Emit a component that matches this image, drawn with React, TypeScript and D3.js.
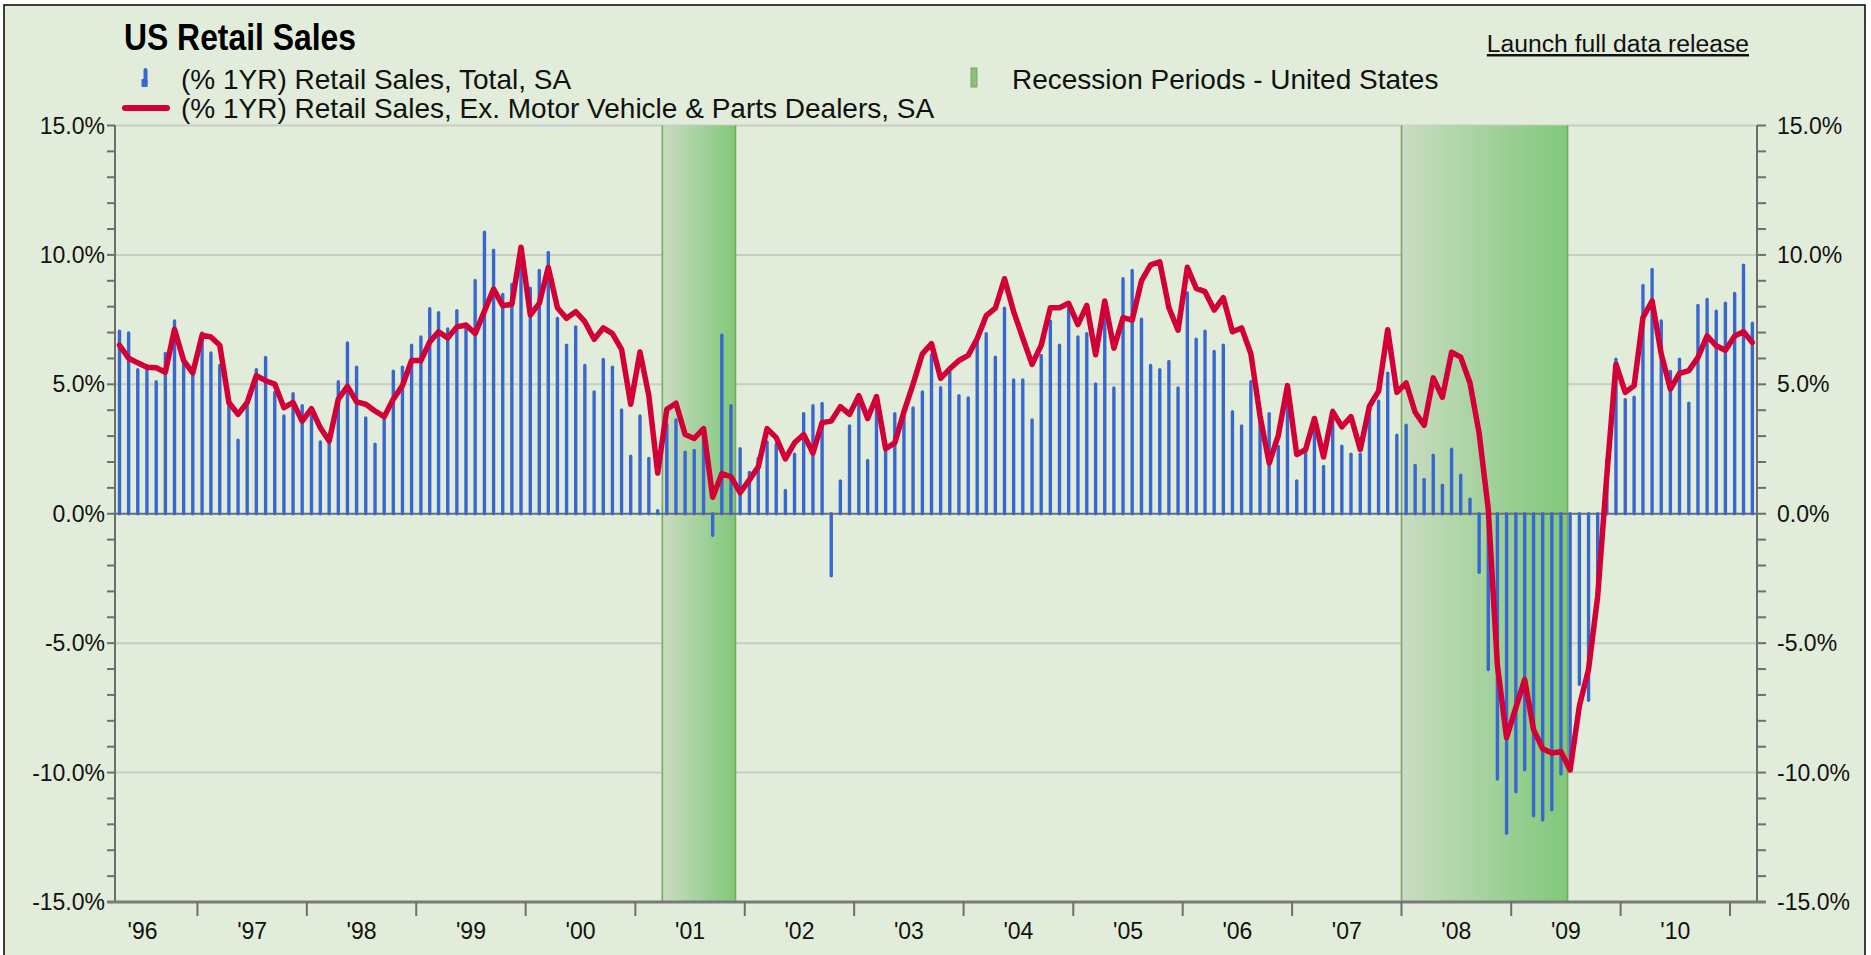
import React, { useEffect, useRef } from 'react';
import * as d3 from 'd3';

// Monthly data, Apr 1996 .. Mar 2011 (% change over 1 year)
const firstMonth = new Date(1996, 3, 1);
const domainEnd = new Date(2011, 3, 1);

const totalSA = [
  7.05, 6.99, 5.57, 5.73, 5.1, 6.19, 7.45, 5.86, 5.44, 6.99, 6.21, 5.73, 4.17, 2.84, 4.17, 5.57, 6.04, 4.69, 3.78, 4.64, 4.17, 3.78, 2.77,
  2.8, 5.1, 6.6, 5.66, 3.7, 2.69, 3.69, 5.51, 5.66, 6.51, 6.83, 7.92, 7.77, 7.14, 7.84, 7.14, 9.01, 10.88, 10.18, 8.47, 8.86, 9.6,
  8.71, 9.4, 10.1, 7.55, 6.51, 7.22, 5.73, 4.71, 5.96, 5.66, 4.01, 2.22, 3.78, 2.14, 0.12, 3.45, 3.62, 2.38, 2.45, 3.0, -0.83, 6.9, 4.17, 2.51,
  1.6, 2.14, 2.77, 2.68, 0.9, 2.3, 3.87, 4.17, 4.26, -2.4, 1.27, 3.39, 4.23, 2.06, 4.43, 2.42, 3.87, 3.78, 4.09, 4.71, 6.14, 4.87, 5.47,
  4.56, 4.47, 6.64, 6.96, 6.05, 7.94, 5.17, 5.17, 3.62, 6.12, 7.44, 6.51, 7.91, 6.83, 6.96, 5.01, 7.55, 4.86, 9.08, 9.4, 7.52, 5.73,
  5.57, 5.88, 4.86, 8.53, 6.74, 7.05, 6.27, 6.51, 3.94, 3.39, 5.1, 4.06, 3.87, 2.6, 4.4, 1.27, 2.48, 3.26, 1.83, 4.01, 2.61, 2.3, 2.3,
  4.12, 4.35, 5.43, 3.03, 3.42, 1.87, 1.33, 2.26, 1.1, 2.49, 1.49, 0.56, -2.26, -6.02, -10.25, -12.34, -10.74, -9.89, -11.67, -11.83, -11.44, -10.05, -9.6, -6.59, -7.21,
  -3.2, 2.09, 5.97, 4.41, 4.5, 8.82, 9.44, 7.45, 5.5, 5.97, 4.27, 8.05, 8.28, 7.83, 8.13, 8.51, 9.6, 7.36,
];

const exAutoSA = [
  6.51, 6.01, 5.83, 5.66, 5.64, 5.47, 7.13, 5.92, 5.44, 6.9, 6.83, 6.51, 4.3, 3.84, 4.3, 5.34, 5.14, 5.01, 4.1, 4.3, 3.58, 4.06, 3.32,
  2.81, 4.43, 4.92, 4.32, 4.23, 3.97, 3.75, 4.43, 4.95, 5.92, 5.92, 6.64, 7.03, 6.79, 7.22, 7.29, 6.96, 7.83, 8.68, 8.04, 8.09, 10.3,
  7.68, 8.13, 9.52, 7.96, 7.55, 7.81, 7.42, 6.74, 7.18, 6.96, 6.35, 4.23, 6.25, 4.56, 1.57, 4.04, 4.27, 3.06, 2.91, 3.29, 0.64, 1.55, 1.43, 0.82,
  1.31, 1.81, 3.29, 2.94, 2.12, 2.74, 3.06, 2.35, 3.52, 3.58, 4.14, 3.84, 4.56, 3.68, 4.53, 2.51, 2.74, 3.94, 5.01, 6.18, 6.57, 5.23, 5.6,
  5.92, 6.12, 6.77, 7.65, 7.94, 9.08, 7.81, 6.79, 5.77, 6.51, 7.96, 7.96, 8.13, 7.31, 8.05, 6.14, 8.22, 6.4, 7.58, 7.48, 9.0, 9.62,
  9.73, 7.96, 7.09, 9.52, 8.71, 8.58, 7.87, 8.35, 7.03, 7.18, 6.18, 3.78, 1.96, 3.03, 4.95, 2.29, 2.48, 3.68, 2.19, 3.94, 3.36, 3.75, 2.48,
  4.16, 4.74, 7.11, 4.69, 5.05, 3.92, 3.42, 5.25, 4.5, 6.24, 6.05, 5.05, 3.11, 0.17, -5.87, -8.65, -7.49, -6.41, -8.34, -9.08, -9.24, -9.19, -9.9, -7.42, -6.01,
  -3.19, 1.5, 5.78, 4.69, 4.95, 7.58, 8.22, 6.17, 4.82, 5.42, 5.53, 6.04, 6.87, 6.49, 6.32, 6.87, 7.03, 6.62,
];

const recessionStarts = ['2001-04-01', '2008-01-01'];
const recessionEnds = ['2001-12-01', '2009-07-08'];

const yGridValues = [15, 10, 5, -5, -10];
const yLabelValues = [15, 10, 5, 0, -5, -10, -15];
const yearLabels = ["'96", "'97", "'98", "'99", "'00", "'01", "'02", "'03", "'04", "'05", "'06", "'07", "'08", "'09", "'10"];

const legendTotal = '(% 1YR) Retail Sales, Total, SA';
const legendExAuto = '(% 1YR) Retail Sales, Ex. Motor Vehicle & Parts Dealers, SA';
const legendRecession = 'Recession Periods - United States';

export default function App() {
  const svgRef = useRef<SVGSVGElement>(null);

  useEffect(() => {
    if (!svgRef.current) return;
    const svg = d3.select(svgRef.current);
    svg.selectAll('*').remove();

    const W = 1871, H = 955;
    const left = 115, right = 1757, top = 125.5, bottom = 902;
    const font = '"Liberation Sans", Arial, sans-serif';

    const x = d3.scaleTime().domain([firstMonth, domainEnd]).range([left, right]);
    const y = d3.scaleLinear().domain([-15, 15]).range([bottom, top]);
    const parse = d3.timeParse('%Y-%m-%d');
    const months = totalSA.map((_, i) => d3.timeMonth.offset(firstMonth, i));
    const mid = (d: Date) => (x(d) + x(d3.timeMonth.offset(d, 1))) / 2;

    // fondo
    svg.append('rect').attr('width', W).attr('height', H).attr('fill', '#fff');
    svg.append('rect')
      .attr('x', 4).attr('y', 5).attr('width', 1861).attr('height', 965)
      .attr('fill', '#e2ecda').attr('stroke', '#000').attr('stroke-width', 1.5);

    const defs = svg.append('defs');
    const grad = defs.append('linearGradient').attr('id', 'recGrad')
      .attr('x1', '0').attr('x2', '1').attr('y1', '0').attr('y2', '0');
    grad.append('stop').attr('offset', '0').attr('stop-color', '#cadcc1');
    grad.append('stop').attr('offset', '1').attr('stop-color', '#80c87a');

    // rejilla
    svg.selectAll('.grid')
      .data(yGridValues)
      .join('line')
      .attr('x1', left).attr('x2', right)
      .attr('y1', d => y(d)).attr('y2', d => y(d))
      .attr('stroke', '#c9cbc5').attr('stroke-width', 2);

    // recesiones
    const rec = recessionStarts.map((s, i) => ({ s: parse(s)!, e: parse(recessionEnds[i])! }));
    svg.selectAll('.rec')
      .data(rec)
      .join('rect')
      .attr('x', d => x(d.s)).attr('width', d => x(d.e) - x(d.s))
      .attr('y', top).attr('height', bottom - top)
      .attr('fill', 'url(#recGrad)');
    rec.forEach(d => {
      [d.s, d.e].forEach(t => {
        svg.append('line')
          .attr('x1', x(t)).attr('x2', x(t)).attr('y1', top).attr('y2', bottom)
          .attr('stroke', '#76a85e').attr('stroke-width', 1.6);
      });
    });

    // ejes verticales y marcas
    const minor = d3.range(-15, 16, 1);
    [left, right].forEach((ax, k) => {
      svg.append('line')
        .attr('x1', ax).attr('x2', ax).attr('y1', top).attr('y2', bottom)
        .attr('stroke', '#6e6e6e').attr('stroke-width', 2);
      svg.selectAll(null)
        .data(minor)
        .join('line')
        .attr('x1', ax).attr('x2', k === 0 ? ax - 8 : ax + 9)
        .attr('y1', d => y(d)).attr('y2', d => y(d))
        .attr('stroke', '#6e6e6e').attr('stroke-width', 2);
    });

    // línea cero
    svg.append('line')
      .attr('x1', left).attr('x2', right).attr('y1', y(0)).attr('y2', y(0))
      .attr('stroke', '#6e6e6e').attr('stroke-width', 2.2);

    // barras
    svg.selectAll('.bar')
      .data(totalSA)
      .join('line')
      .attr('x1', (_, i) => mid(months[i])).attr('x2', (_, i) => mid(months[i]))
      .attr('y1', y(0)).attr('y2', d => y(d))
      .attr('stroke', '#3868cf').attr('stroke-width', 3.4).attr('stroke-linecap', 'round');

    // línea
    const line = d3.line<number>()
      .x((_, i) => mid(months[i]))
      .y(d => y(d));
    svg.append('path')
      .datum(exAutoSA)
      .attr('d', line)
      .attr('fill', 'none')
      .attr('stroke', '#d20037').attr('stroke-width', 5.5)
      .attr('stroke-linejoin', 'round').attr('stroke-linecap', 'round');

    // eje inferior
    svg.append('line')
      .attr('x1', left - 8).attr('x2', right + 9).attr('y1', bottom).attr('y2', bottom)
      .attr('stroke', '#7a7a7a').attr('stroke-width', 3);
    const yearStarts = d3.timeYear.range(new Date(1997, 0, 1), new Date(2011, 1, 1));
    svg.selectAll('.ytick')
      .data(yearStarts)
      .join('line')
      .attr('x1', d => x(d)).attr('x2', d => x(d))
      .attr('y1', bottom).attr('y2', bottom + 14)
      .attr('stroke', '#6e6e6e').attr('stroke-width', 2);
    svg.selectAll('.ylab')
      .data(yearLabels)
      .join('text')
      .attr('x', (_, i) => (x(new Date(1996 + i, 0, 1)) + x(new Date(1997 + i, 0, 1))) / 2)
      .attr('y', 939)
      .attr('text-anchor', 'middle')
      .attr('font-family', font).attr('font-size', 23).attr('fill', '#111')
      .text(d => d);

    // etiquetas eje Y
    const fmt = (v: number) => d3.format('.1f')(v).replace('\u2212', '-') + '%';
    svg.selectAll('.yl')
      .data(yLabelValues)
      .join('text')
      .attr('x', 105).attr('y', d => y(d) + 8)
      .attr('text-anchor', 'end')
      .attr('font-family', font).attr('font-size', 23).attr('fill', '#111')
      .text(d => fmt(d));
    svg.selectAll('.yr')
      .data(yLabelValues)
      .join('text')
      .attr('x', 1777).attr('y', d => y(d) + 8)
      .attr('text-anchor', 'start')
      .attr('font-family', font).attr('font-size', 23).attr('fill', '#111')
      .text(d => fmt(d));

    // título y leyenda
    svg.append('text')
      .attr('x', 124).attr('y', 50)
      .attr('font-family', font).attr('font-size', 37).attr('font-weight', 'bold').attr('fill', '#000')
      .attr('textLength', 232).attr('lengthAdjust', 'spacingAndGlyphs')
      .text('US Retail Sales');

    svg.append('text')
      .attr('x', 1749).attr('y', 52)
      .attr('text-anchor', 'end')
      .attr('font-family', font).attr('font-size', 24.7).attr('fill', '#111')
      .attr('text-decoration', 'underline')
      .text('Launch full data release');

    const leg = svg.append('g').attr('font-family', font).attr('font-size', 28).attr('fill', '#111');
    leg.append('rect').attr('x', 143.5).attr('y', 68).attr('width', 4).attr('height', 19).attr('rx', 2).attr('fill', '#3868cf');
    leg.append('rect').attr('x', 141.5).attr('y', 79).attr('width', 6).attr('height', 8).attr('rx', 1).attr('fill', '#3868cf');
    leg.append('text').attr('x', 181).attr('y', 89).text(legendTotal);
    leg.append('line').attr('x1', 125).attr('x2', 167).attr('y1', 108).attr('y2', 108)
      .attr('stroke', '#d20037').attr('stroke-width', 6).attr('stroke-linecap', 'round');
    leg.append('text').attr('x', 181).attr('y', 118).text(legendExAuto);
    leg.append('rect').attr('x', 971).attr('y', 68).attr('width', 6).attr('height', 19)
      .attr('fill', '#8dc07c').attr('stroke', '#78a866').attr('stroke-width', 1);
    leg.append('text').attr('x', 1012).attr('y', 89).text(legendRecession);
  }, []);

  return (
    <div style={{ position: 'absolute', left: 0, top: 0 }}>
      <svg ref={svgRef} width={1871} height={955} style={{ display: 'block' }} />
    </div>
  );
}
